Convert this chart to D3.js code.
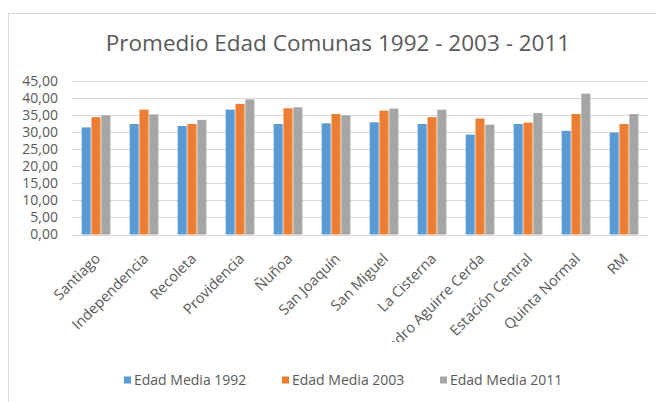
<!DOCTYPE html>
<html>
<head>
<meta charset="utf-8">
<script src="https://cdn.jsdelivr.net/npm/d3@7"></script>
<style>
  body { margin: 0; background: #fff; }
  text { font-family: "Open Sans", sans-serif; fill: #595959; }
</style>
</head>
<body>
<svg width="656" height="402"></svg>
<script>
const comunas = ["Santiago", "Independencia", "Recoleta", "Providencia", "Ñuñoa", "San Joaquín",
  "San Miguel", "La Cisterna", "Pedro Aguirre Cerda", "Estación Central", "Quinta Normal", "RM"];
const series = ["Edad Media 1992", "Edad Media 2003", "Edad Media 2011"];
const media1992 = [31.4, 32.4, 31.8, 36.6, 32.4, 32.6, 32.9, 32.4, 29.3, 32.4, 30.4, 29.9];
const media2003 = [34.4, 36.6, 32.4, 38.3, 37.0, 35.3, 36.3, 34.4, 34.0, 32.8, 35.3, 32.4];
const media2011 = [34.9, 35.2, 33.6, 39.6, 37.3, 34.9, 36.9, 36.6, 32.2, 35.6, 41.3, 35.3];
const yTicks = [0, 5, 10, 15, 20, 25, 30, 35, 40, 45];
const colores = ["#5B9BD5", "#ED7D31", "#A5A5A5"];

const svg = d3.select("svg");
const largura = parseFloat(svg.attr('width'));
const altura = parseFloat(svg.attr('height'));

// marco del gráfico
svg.append('rect')
  .attr('x', 8.5).attr('y', 13.5)
  .attr('width', largura + 10).attr('height', altura + 10)
  .attr('fill', 'none').attr('stroke', '#d9d9d9');

svg.append('text')
  .attr('x', 338).attr('y', 51)
  .attr('text-anchor', 'middle')
  .style('font-size', '22.5px')
  .text("Promedio Edad Comunas 1992 - 2003 - 2011");

const x = d3.scaleBand().domain(comunas).range([72, 648]).paddingInner(0.37).paddingOuter(0.185);
const xSub = d3.scaleBand().domain(series).range([0, x.bandwidth()]).padding(0.08);
const y = d3.scaleLinear().domain([0, 45]).range([234.5, 81]);

// líneas de división
svg.append('g').selectAll('line').data(yTicks).join('line')
  .attr('x1', 72).attr('x2', 648)
  .attr('y1', d => Math.round(y(d)) + 0.5).attr('y2', d => Math.round(y(d)) + 0.5)
  .attr('stroke', '#d9d9d9');

svg.append('g').selectAll('text').data(yTicks).join('text')
  .attr('x', 58).attr('y', d => y(d))
  .attr('dy', '0.35em')
  .attr('text-anchor', 'end')
  .style('font-size', '14px')
  .text(d => d3.format('.2f')(d).replace('.', ','));

const valores = [media1992, media2003, media2011];
const grupos = svg.append('g').selectAll('g').data(comunas).join('g')
  .attr('transform', d => `translate(${x(d)},0)`);

grupos.selectAll('rect')
  .data((c, i) => series.map((s, k) => ({ s, v: valores[k][i], k })))
  .join('rect')
    .attr('x', d => xSub(d.s))
    .attr('width', xSub.bandwidth())
    .attr('y', d => y(d.v))
    .attr('height', d => y(0) - y(d.v))
    .attr('fill', d => colores[d.k]);

// etiquetas del eje x, recortadas como en Excel
svg.append('clipPath').attr('id', 'recorte')
  .append('rect').attr('x', 0).attr('y', 236).attr('width', largura).attr('height', 106);

svg.append('g').attr('clip-path', 'url(#recorte)')
  .selectAll('text').data(comunas).join('text')
  .attr('transform', d => `translate(${x(d) + x.bandwidth() / 2 + 1.5},${256}) rotate(-45)`)
  .attr('text-anchor', 'end')
  .attr('dy', '0.35em')
  .style('font-size', '14.5px')
  .text(d => d);

// leyenda
const leyendaX = [124, 282, 440];
const leyenda = svg.append('g').selectAll('g').data(series).join('g')
  .attr('transform', (d, i) => `translate(${leyendaX[i]},380)`);
leyenda.append('rect')
  .attr('x', 0).attr('y', -3.5).attr('width', 7).attr('height', 7)
  .attr('fill', (d, i) => colores[i]);
leyenda.append('text')
  .attr('x', 10).attr('dy', '0.35em')
  .style('font-size', '14px')
  .text(d => d);
</script>
</body>
</html>
